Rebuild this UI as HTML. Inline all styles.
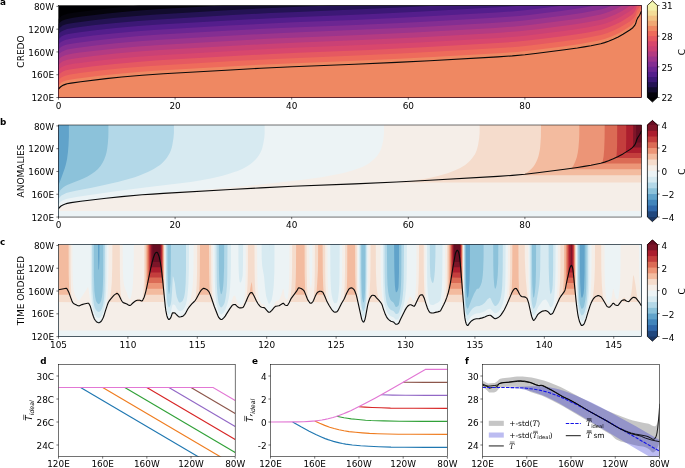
<!DOCTYPE html>
<html><head><meta charset="utf-8"><title>figure</title>
<style>html,body{margin:0;padding:0;background:#fff;overflow:hidden}svg{display:block}text{font-family:"DejaVu Sans","Liberation Sans",sans-serif;fill:#000}</style></head><body>
<svg width="685" height="468" viewBox="0 0 685 468">
<rect width="685" height="468" fill="#fff"/>
<clipPath id="ca"><rect x="58.5" y="5.45" width="583.00" height="92.05"/></clipPath>
<g clip-path="url(#ca)">
<rect x="58.5" y="5.45" width="583.00" height="92.05" fill="#000002"/>
<path fill="#05040c" fill-rule="evenodd" d="M58.5,97.5 641.5,97.5 641.5,5.5 139.3,5.5 121.7,7 107.1,8.5 82.8,11.4 73.1,12.7 67.2,13.8 65.3,14.4 63.4,15.1 61.4,16.1 60.4,16.9 58.5,19Z"/>
<path fill="#120c2e" fill-rule="evenodd" d="M58.5,97.5 641.5,97.5 641.5,5.5 223.2,5.5 159.6,9.1 136.2,10.8 119.7,12.3 105.1,13.8 81.8,16.6 73.1,17.8 67.2,18.9 65.3,19.5 63.4,20.2 61.4,21.2 60.4,22.1 58.5,24.1Z"/>
<path fill="#241354" fill-rule="evenodd" d="M58.5,97.5 641.5,97.5 641.5,5.5 330.9,5.5 292.7,7 260.6,8.5 227.6,10.3 152.8,14.7 133.3,16.2 112.9,18.1 93.5,20.3 73.1,22.9 67.2,24 65.3,24.6 63.4,25.3 61.4,26.4 60.4,27.2 58.5,29.2Z"/>
<path fill="#3c1876" fill-rule="evenodd" d="M58.5,97.5 641.5,97.5 641.5,5.5 439.7,5.5 409.3,7.1 377.2,8.6 297.5,11.9 270.3,13.1 232.4,15.1 159.6,19.4 138.2,20.9 115.8,22.9 95.4,25.1 79.9,27.1 73.1,28 67.2,29.1 65.3,29.7 63.4,30.4 61.4,31.5 60.4,32.3 58.5,34.3Z"/>
<path fill="#541e8c" fill-rule="evenodd" d="M58.5,97.5 641.5,97.5 641.5,5.5 521.6,5.5 510.3,6.4 497.7,7.3 418,11.7 367.5,14.2 299.5,16.9 272.3,18.2 233.4,20.2 159.6,24.5 138.2,26 115.8,28 95.4,30.3 79.9,32.2 73.1,33.2 67.2,34.3 65.3,34.8 63.4,35.6 61.4,36.6 60.4,37.4 58.5,39.5Z"/>
<path fill="#6c2692" fill-rule="evenodd" d="M58.5,97.5 641.5,97.5 641.5,5.5 563.2,5.5 537.5,8.7 524.9,10.2 512.3,11.4 496.7,12.5 428.7,16.3 395.7,18 353.9,19.9 293.6,22.3 264.5,23.7 228.5,25.6 153.7,30 134.3,31.4 112.9,33.4 93.5,35.6 73.1,38.3 67.2,39.4 65.3,39.9 63.4,40.7 61.4,41.7 60.4,42.5 58.5,44.6Z"/>
<path fill="#842e92" fill-rule="evenodd" d="M58.5,97.5 641.5,97.5 641.5,5.5 595.3,5.5 581.3,8 560.9,10.9 528.8,14.9 519.1,15.9 508.4,16.8 493.8,17.7 438.4,20.9 400.5,22.9 355.8,24.9 292.7,27.4 263.5,28.8 230.5,30.6 160.5,34.6 139.1,36.1 115.8,38.2 95.4,40.5 79.9,42.4 73.1,43.4 67.2,44.5 65.3,45 63.4,45.8 61.4,46.8 60.4,47.6 58.5,49.7Z"/>
<path fill="#9c358c" fill-rule="evenodd" d="M58.5,97.5 641.5,97.5 641.5,5.5 612.3,5.5 606.5,7.7 600.7,9.4 590,11.6 582.2,13 564.7,15.5 534.6,19.3 522,20.8 510.3,21.8 491.9,23 412.2,27.4 364.6,29.6 299.5,32.3 273.2,33.4 233.4,35.5 160.5,39.8 139.1,41.3 115.8,43.3 95.4,45.6 79.9,47.5 73.1,48.5 67.2,49.6 65.3,50.2 63.4,50.9 61.4,51.9 60.4,52.7 58.5,54.8Z"/>
<path fill="#b43b82" fill-rule="evenodd" d="M58.5,97.5 641.5,97.5 641.5,5.5 622.6,5.5 619.2,7.3 615.3,9.2 610.4,11.3 606.5,12.8 600.7,14.6 591.9,16.3 580.3,18.4 562.8,20.8 531.7,24.8 515.2,26.5 494.8,27.9 414.1,32.4 365.5,34.7 299.5,37.4 272.3,38.6 233.4,40.7 159.6,44.9 138.2,46.4 115.8,48.4 95.4,50.7 79.9,52.6 73.1,53.6 67.2,54.7 65.3,55.3 63.4,56 61.4,57 60.4,57.8 58.5,59.9Z"/>
<path fill="#ca4175" fill-rule="evenodd" d="M58.5,97.5 641.5,97.5 641.5,5.5 630.6,5.5 622.1,10.9 615.3,14.4 610.4,16.4 606.5,17.9 603.6,18.9 599.7,19.9 586.1,22.5 575.4,24.2 537.5,29.2 519.1,31.3 508.4,32.1 496.7,32.9 416.1,37.4 366.5,39.8 299.5,42.5 272.3,43.7 233.4,45.8 159.6,50 138.2,51.6 115.8,53.6 95.4,55.8 79.9,57.8 73.1,58.7 67.2,59.8 65.3,60.4 63.4,61.1 61.4,62.2 60.4,63 58.5,65Z"/>
<path fill="#d8476d" fill-rule="evenodd" d="M58.5,97.5 641.5,97.5 641.5,5.5 635.2,5.5 634.7,6.4 633.7,7.7 632.8,8.7 630.8,10.4 628.9,11.8 622.1,16 617.2,18.6 611.4,21.2 605.5,23.4 600.7,24.8 588.1,27.3 577.4,29 563.8,30.9 541.4,33.8 523,36 511.3,37 498.7,37.9 419,42.4 367.5,44.8 299.5,47.6 272.3,48.8 233.4,50.9 159.6,55.2 138.2,56.7 115.8,58.7 95.4,60.9 79.9,62.9 73.1,63.8 67.2,64.9 65.3,65.5 63.4,66.2 61.4,67.3 60.4,68.1 58.5,70.1Z"/>
<path fill="#e55961" fill-rule="evenodd" d="M58.5,97.5 641.5,97.5 641.5,5.5 637.1,5.5 636.6,6.6 635.7,9.8 634.7,11.6 633.7,12.8 632.8,13.9 630.8,15.5 625,19.3 621.1,21.7 615.3,24.6 609.4,27.1 604.6,28.8 600.7,29.9 597.8,30.5 588.1,32.4 580.3,33.7 560.9,36.4 527.8,40.6 515.2,41.8 501.6,42.8 422.9,47.3 369.4,49.9 298.5,52.7 272.3,53.9 233.4,56 158.6,60.3 137.2,61.9 114.9,63.9 93.5,66.3 73.1,69 67.2,70 65.3,70.6 63.4,71.3 61.4,72.4 60.4,73.2 58.5,75.2Z"/>
<path fill="#ee6b5b" fill-rule="evenodd" d="M58.5,97.5 641.5,97.5 641.5,5.5 640.1,5.5 639.6,6.5 637.6,9.5 636.6,11.7 635.7,14.9 634.7,16.7 633.7,17.9 632.8,19 629.8,21.4 624,25.1 621.1,26.8 616.2,29.2 612.4,31 607.5,32.9 603.6,34.2 600.7,35 595.8,36 588.1,37.5 581.3,38.7 563.8,41.2 531.7,45.3 518.1,46.7 503.5,47.8 433.6,51.8 400.5,53.5 356.8,55.5 286.8,58.4 234.4,61.1 150.8,66 124.6,68.1 104.2,70.1 79.9,73.1 70.2,74.5 67.2,75.2 65.3,75.7 63.4,76.5 61.4,77.5 60.4,78.3 58.5,80.4Z"/>
<path fill="#ef8862" fill-rule="evenodd" d="M58.5,97.5 641.5,97.5 641.5,7.5 639.6,11.7 637.6,14.6 636.6,16.8 635.7,20 634.7,21.8 633.7,23.1 631.8,25 629.8,26.5 623,30.8 619.2,32.9 614.3,35.3 609.4,37.3 604.6,39 600.7,40.1 597.8,40.7 588.1,42.6 580.3,44 562.8,46.4 530.7,50.5 517.1,51.9 502.6,53 432.6,57 399.6,58.7 355.8,60.7 288.8,63.4 242.1,65.7 154.7,70.8 135.3,72.3 113.9,74.2 97.4,76 76,78.7 68.2,80 65.3,80.8 63.4,81.6 61.4,82.6 60.4,83.4 58.5,85.5Z"/>
<path d="M58.5,89 60.4,87 61.4,86.2 63.4,85.1 65.3,84.4 67.2,83.8 71.1,83.1 80.8,81.7 106.1,78.6 121.7,77 142.1,75.3 152.8,74.5 163.4,73.8 230.5,70 260.6,68.3 292.7,66.8 354.9,64.3 396.6,62.4 429.7,60.7 497.7,56.9 512.3,55.9 524.9,54.7 537.5,53.2 564.7,49.7 577.4,48 584.2,46.9 591,45.7 600.7,43.7 604.6,42.6 608.5,41.2 613.3,39.3 618.2,37 623,34.3 629.8,30 631.8,28.5 632.8,27.7 633.7,26.6 634.7,25.4 635.7,23.6 636.6,20.4 637.6,18.1 639.6,15.2 640.5,13.3 641.5,11.1" fill="none" stroke="#0a0a0a" stroke-width="1.12" stroke-linejoin="round"/>
</g>
<rect x="58.5" y="5.45" width="583.00" height="92.05" fill="none" stroke="#000" stroke-width="0.55"/>
<path d="M56.40,6.36H58.5" stroke="#000" stroke-width="0.55"/>
<text x="54" y="10" font-size="8.9" text-anchor="end">80W</text>
<path d="M56.40,29.15H58.5" stroke="#000" stroke-width="0.55"/>
<text x="54" y="32.7" font-size="8.9" text-anchor="end">120W</text>
<path d="M56.40,51.93H58.5" stroke="#000" stroke-width="0.55"/>
<text x="54" y="55.5" font-size="8.9" text-anchor="end">160W</text>
<path d="M56.40,74.72H58.5" stroke="#000" stroke-width="0.55"/>
<text x="54" y="78.3" font-size="8.9" text-anchor="end">160E</text>
<path d="M56.40,97.50H58.5" stroke="#000" stroke-width="0.55"/>
<text x="54" y="101.1" font-size="8.9" text-anchor="end">120E</text>
<path d="M58.50,97.5V99.60" stroke="#000" stroke-width="0.55"/>
<text x="58.5" y="108.5" font-size="8.9" text-anchor="middle">0</text>
<path d="M175.10,97.5V99.60" stroke="#000" stroke-width="0.55"/>
<text x="175.1" y="108.5" font-size="8.9" text-anchor="middle">20</text>
<path d="M291.70,97.5V99.60" stroke="#000" stroke-width="0.55"/>
<text x="291.7" y="108.5" font-size="8.9" text-anchor="middle">40</text>
<path d="M408.30,97.5V99.60" stroke="#000" stroke-width="0.55"/>
<text x="408.3" y="108.5" font-size="8.9" text-anchor="middle">60</text>
<path d="M524.90,97.5V99.60" stroke="#000" stroke-width="0.55"/>
<text x="524.9" y="108.5" font-size="8.9" text-anchor="middle">80</text>
<text x="24.3" y="51.5" font-size="9.0" text-anchor="middle" transform="rotate(-90 24.3 51.5)">CREDO</text>
<text x="0.1" y="4.9" font-size="8.8" font-weight="bold">a</text>
<clipPath id="cb"><rect x="58.5" y="125.0" width="583.00" height="92.05"/></clipPath>
<g clip-path="url(#cb)">
<rect x="58.5" y="125.0" width="583.00" height="92.05" fill="#1c3764"/>
<path fill="#21487e" fill-rule="evenodd" d="M58.5,217.1 641.5,217.1 641.5,125 58.5,125Z"/>
<path fill="#3068aa" fill-rule="evenodd" d="M58.5,217.1 641.5,217.1 641.5,125 58.5,125Z"/>
<path fill="#4285bb" fill-rule="evenodd" d="M58.5,217.1 641.5,217.1 641.5,125 58.5,125Z"/>
<path fill="#61a3ca" fill-rule="evenodd" d="M58.5,217.1 641.5,217.1 641.5,125 58.9,125 58.8,146.9 58.5,159.4Z"/>
<path fill="#8cc2da" fill-rule="evenodd" d="M58.5,217.1 641.5,217.1 641.5,125 68.9,125 68.9,136.1 68.5,145.5 67.9,152.6 67,159.2 65.9,164.3 64.7,168.6 60,181.4 58.5,185.1Z"/>
<path fill="#b3d8e8" fill-rule="evenodd" d="M58.5,217.1 641.5,217.1 641.5,125 108.4,125 108.4,132.7 108.3,137.3 107.8,143.8 107.2,148.7 106.5,152.4 105.5,156.1 104.2,159.5 102.7,162.6 100.7,165.8 98,168.9 94.8,171.7 90.8,174.6 87.5,176.6 83.9,178.3 79.8,180 70.2,183.7 67.2,184.9 65.3,186 63.4,187.3 61.4,188.9 60.4,190.1 58.5,192.9Z"/>
<path fill="#d7eaf1" fill-rule="evenodd" d="M58.5,217.1 641.5,217.1 641.5,125 173.9,125 173.9,133 173.5,137.8 172.3,145.2 171.7,147.8 171,150.1 170.2,152.1 169.2,154.1 166.9,157.8 165.3,159.8 163.7,161.5 162,163.2 160,164.9 157.6,166.6 155,168.3 151.9,170 148.4,171.7 139.5,175.4 134.8,177.2 130.4,178.6 118.7,181.7 105.4,184.8 91.8,187.7 77,190.5 70.2,192 66.3,193.1 63.4,194.4 61.4,195.6 60.4,196.5 58.5,198.8Z"/>
<path fill="#ecf3f5" fill-rule="evenodd" d="M58.5,217.1 641.5,217.1 641.5,125 264.6,125 264.6,133.8 264.4,136.7 264,139.5 263.2,144.1 262.4,147.5 261.4,150.4 260.2,152.9 258.7,155.5 257.1,157.8 255.1,160.1 252.7,162.3 250.2,164.3 247.6,166 244.6,167.7 241.7,169.2 237.6,170.9 233.6,172.3 228.4,174 222.5,175.7 211.9,178.3 199.8,180.6 190.7,182 182.4,183.1 145,187.5 115.8,191.2 77.9,196.7 71.1,197.9 67.2,198.7 64.3,199.7 62.4,200.6 61.4,201.2 60.4,202.1 58.5,204.2Z"/>
<path fill="#f5eee8" fill-rule="evenodd" d="M58.5,210.8 58.5,210.9 641.5,210.9 641.5,125 384,125 384,132.1 383.8,135.5 383.4,139.2 382.5,143.8 381.5,147.5 380.4,150.4 379.1,152.9 377.4,155.5 375.2,158.1 372.4,160.6 369.5,162.9 366.3,164.9 362.3,166.9 358.2,168.6 353.1,170.3 348.1,171.7 342.4,173.2 335.8,174.6 328.2,176 321.4,177.2 302.8,179.7 274,183.1 246.9,186 212.9,189.1 189.7,191.1 154.7,193.7 136.2,195.4 110,198.1 80.2,201.9 69.3,203.7 64.3,205 64,205.4 62.4,205.9 62.3,206.2 61.4,206.5 61.3,207.1 60.4,207.3 60.4,207.9 60.1,208.2 59.5,208.4 59.4,209.1 58.5,209.3Z"/>
<path fill="#f5dccc" fill-rule="evenodd" d="M398.9,182.6 641.5,182.6 641.5,125 479.6,125 479.6,133 479.2,137.8 478,145.5 477.3,148.1 476.6,150.4 475.8,152.4 474.8,154.4 473.5,156.3 472.1,158.3 470.4,160.3 468.7,162 466.7,163.8 464.8,165.2 462.7,166.6 460.2,168 454.6,170.6 447.6,173.2 438.9,175.7 430.4,177.7 421.9,179.3 411.2,181Z"/>
<path fill="#f3bb9f" fill-rule="evenodd" d="M522.4,175.2 523.9,175.3 641.5,175.3 641.5,125 541,125 540.9,136.7 540.2,146.7 539.8,150.1 539.2,152.9 538.5,156.1 537.5,158.9 536.3,161.8 535,164.3 533.7,166.3 532,168.3 529.9,170.3 527.8,171.9 525,173.7Z"/>
<path fill="#ec9577" fill-rule="evenodd" d="M571.2,169.2 641.5,169.2 641.5,125 579.3,125 579.3,134.1 579.1,139.5 578.5,147.5 577.8,152.6 576.8,157.2 575.4,161.3 573.6,165.2 572.5,166.9 571,168.9Z"/>
<path fill="#db6b55" fill-rule="evenodd" d="M602.3,163.5 602.6,163.6 641.5,163.6 641.5,125 604.7,125 604.6,137.8 604.2,149.5 603.6,156.6Z"/>
<path fill="#c43e3d" fill-rule="evenodd" d="M616.7,158.1 617.2,158.1 641.5,158.1 641.5,125 617.2,125 617.1,145.5 616.8,151.8 616.4,157.8Z"/>
<path fill="#ac1e2e" fill-rule="evenodd" d="M625.9,152.6 626.9,152.9 641.5,152.9 641.5,125 626.2,125 626.2,139.5Z"/>
<path fill="#7d1528" fill-rule="evenodd" d="M633.5,147.5 633.7,147.6 641.5,147.6 641.5,125 633.2,125 633.1,146.9Z"/>
<path fill="#670d22" fill-rule="evenodd" d="M636.6,142.4 641.5,142.5 641.5,125 636.1,125 636.1,140.7 636.3,141.8Z"/>
<path d="M58.5,208.6 60.4,206.5 61.4,205.7 63.4,204.7 65.3,204 67.2,203.4 71.1,202.6 80.8,201.2 106.1,198.2 121.7,196.6 142.1,194.8 152.8,194.1 163.4,193.4 230.5,189.5 260.6,187.9 292.7,186.3 354.9,183.9 396.6,182 429.7,180.3 497.7,176.4 512.3,175.4 524.9,174.3 537.5,172.8 564.7,169.3 577.4,167.5 584.2,166.4 591,165.2 600.7,163.2 604.6,162.1 608.5,160.8 613.3,158.8 618.2,156.5 623,153.9 629.8,149.6 631.8,148.1 632.8,147.2 633.7,146.2 634.7,144.9 635.7,143.1 636.6,140 637.6,137.7 639.6,134.8 640.5,132.9 641.5,130.6" fill="none" stroke="#0a0a0a" stroke-width="1.12" stroke-linejoin="round"/>
</g>
<rect x="58.5" y="125.0" width="583.00" height="92.05" fill="none" stroke="#000" stroke-width="0.55"/>
<path d="M56.40,125.91H58.5" stroke="#000" stroke-width="0.55"/>
<text x="54" y="129.5" font-size="8.9" text-anchor="end">80W</text>
<path d="M56.40,148.70H58.5" stroke="#000" stroke-width="0.55"/>
<text x="54" y="152.3" font-size="8.9" text-anchor="end">120W</text>
<path d="M56.40,171.48H58.5" stroke="#000" stroke-width="0.55"/>
<text x="54" y="175.1" font-size="8.9" text-anchor="end">160W</text>
<path d="M56.40,194.27H58.5" stroke="#000" stroke-width="0.55"/>
<text x="54" y="197.9" font-size="8.9" text-anchor="end">160E</text>
<path d="M56.40,217.05H58.5" stroke="#000" stroke-width="0.55"/>
<text x="54" y="220.7" font-size="8.9" text-anchor="end">120E</text>
<path d="M58.50,217.05V219.15" stroke="#000" stroke-width="0.55"/>
<text x="58.5" y="228" font-size="8.9" text-anchor="middle">0</text>
<path d="M175.10,217.05V219.15" stroke="#000" stroke-width="0.55"/>
<text x="175.1" y="228" font-size="8.9" text-anchor="middle">20</text>
<path d="M291.70,217.05V219.15" stroke="#000" stroke-width="0.55"/>
<text x="291.7" y="228" font-size="8.9" text-anchor="middle">40</text>
<path d="M408.30,217.05V219.15" stroke="#000" stroke-width="0.55"/>
<text x="408.3" y="228" font-size="8.9" text-anchor="middle">60</text>
<path d="M524.90,217.05V219.15" stroke="#000" stroke-width="0.55"/>
<text x="524.9" y="228" font-size="8.9" text-anchor="middle">80</text>
<text x="24.3" y="171" font-size="9.0" text-anchor="middle" transform="rotate(-90 24.3 171)">ANOMALIES</text>
<text x="0.1" y="124.7" font-size="8.8" font-weight="bold">b</text>
<clipPath id="cc"><rect x="58.5" y="244.55" width="583.00" height="92.05"/></clipPath>
<g clip-path="url(#cc)">
<rect x="58.5" y="244.55" width="583.00" height="92.05" fill="#1c3764"/>
<path fill="#21487e" fill-rule="evenodd" d="M58.5,336.6 641.5,336.6 641.5,244.6 58.5,244.6Z"/>
<path fill="#3068aa" fill-rule="evenodd" d="M58.5,336.6 641.5,336.6 641.5,244.6 58.5,244.6Z"/>
<path fill="#4285bb" fill-rule="evenodd" d="M58.5,336.6 641.5,336.6 641.5,244.6 58.5,244.6Z"/>
<path fill="#61a3ca" fill-rule="evenodd" d="M58.5,336.6 641.5,336.6 641.5,244.6 58.5,244.6Z"/>
<path fill="#8cc2da" fill-rule="evenodd" d="M58.5,336.6 641.5,336.6 641.5,244.6 584.7,244.6 584.6,272.5 584.1,288.7 583.6,293.6 583.1,295.6 582.6,297 582.1,297.8 581.6,297.8 581.1,295.9 580.7,292.1 580.2,283 580,269.3 579.9,244.6 470,244.6 469.9,266.5 469.6,280.2 468.8,291.9 468.3,295.9 467.8,297.8 467.3,297.5 466.8,295 466.2,287.3 465.9,271.6 465.8,244.6 399.1,244.6 399,272.2 398.6,285 398.4,287.4 397.9,289.7 397.3,291.3 396.4,292.3 395.9,292.2 395.4,290.1 394.9,285.6 394.7,281 394.3,267.1 394.1,244.6 99.5,244.6 99.4,259.7 98.9,270.3 98.4,268.5 98.3,264.8 98,255.7 98,244.6 58.5,244.6Z"/>
<path fill="#b3d8e8" fill-rule="evenodd" d="M58.5,336.6 641.5,336.6 641.5,244.6 586.5,244.6 586.3,279.6 586.1,289.1 585.7,295.8 585,301.5 584.1,306.1 583.6,307.3 583.1,307.9 582.1,308.7 581.6,308.8 581.1,308 580.6,306.6 579.8,303.3 579.3,299.3 579,294.4 578.6,278.7 578.5,244.6 536.1,244.6 536,268.5 535.7,282.3 535.3,288.2 534.8,292.7 534.2,296.6 533.7,297.8 533.2,296.9 532.9,294.1 532.3,284.7 532.1,270.2 532,244.6 498.3,244.6 498.2,263.4 497.7,275.6 496.7,284.4 496.1,287 495.8,288.1 495.3,288.7 494.8,288.2 494.3,285.8 493.6,277.3 493.3,265.4 493.2,244.6 483.6,244.6 483.6,257.1 483.2,269.1 482.7,275.9 481.8,281.9 480.8,285 479.7,287.3 478.8,288.4 478.3,288.7 477.3,288.7 476.8,289 474.3,293.2 471.8,298.9 468.5,307.5 467.8,308.7 467.3,308.6 466.8,307.7 466.3,306.3 465.8,303.7 465.3,297.5 464.9,280.2 464.8,244.6 401.4,244.6 401.3,275 401,284.7 400.6,291.6 399.8,299.3 398.9,304.4 398.4,305.8 397.4,306.6 396.4,306.9 395.9,306.9 395.4,306.4 393.9,303.2 393.4,302.5 391.4,301 390.4,299.7 389.1,296.4 388.2,291.9 387.5,285 387.2,276.8 386.9,244.6 365.4,244.6 365.3,273.9 365.1,290.4 364.5,298.6 364,301.7 363.5,302.7 363,301.8 362.1,297.6 361.6,289.3 361.3,274.2 361.3,244.6 224.2,244.6 224.1,267.6 223.6,280.7 223.2,286.1 222.7,290 222,293 221.7,293.8 221.2,294.2 220.7,293.4 220.1,290.4 219.6,286.4 219.2,280.8 218.9,267.6 218.8,244.6 170.9,244.6 170.8,270.8 170.5,282.2 169.8,291.2 169.3,293.7 168.8,294 168.2,290.1 167.8,281.3 167.5,267.9 167.5,244.6 103.3,244.6 103.2,275 102.9,284.7 102.6,291 102,296.4 101.4,299.8 100.9,301.3 100.2,302.7 99.4,303.8 98.9,304.1 98.4,304 97.9,303.7 97.3,303 96.4,301.7 95.9,300.4 95,296.1 94.4,290.9 93.9,276.2 93.8,244.6 58.5,244.6Z"/>
<path fill="#d7eaf1" fill-rule="evenodd" d="M58.5,336.6 641.5,336.6 641.5,244.6 587.9,244.6 587.8,281.3 587.5,291.3 587,299 586.1,306.1 584.6,312 583.6,314.3 582.6,315.1 582.1,315.4 581.6,315.4 581.1,314.8 580.6,313.8 579.6,310.8 578.6,305.3 578.1,299.6 577.6,281.9 577.5,244.6 553.2,244.6 553.1,269.9 552.7,285 552.4,288.4 551.9,291.3 551.2,293.6 550.7,294.1 550.2,292.9 549.7,289.6 549.1,280.2 548.7,267.3 548.6,244.6 540.4,244.6 540.2,269.1 539.9,276.8 539.3,284.2 538.4,290.7 536.3,302.7 535.7,305 535.2,306.3 534.2,308.3 533.7,308.8 533.2,308.4 532.7,306.9 532.2,304.4 531.6,301 531.2,294.7 530.8,277.6 530.7,244.6 502.8,244.6 502.7,270.5 502.2,285.9 501.7,291.4 501.1,295.8 500.2,299.4 499.2,302.1 498.2,303.8 496.8,305.3 495.8,305.9 495.3,306 494.8,305.9 493.8,304.8 492.3,302.2 490.8,298.7 490.3,297.9 489.8,297.8 489.3,298 487.3,299.6 484.8,302.7 482.3,304.7 479.3,305.9 476.3,306.3 474.3,307.2 473.3,307.9 472.3,308.7 471.3,309.9 469.3,312.9 468.3,314.8 467.8,315.4 467.3,315.3 466.8,314.6 466.3,313.5 465.8,311.8 465.3,308.6 464.8,303 464.3,284.7 464.3,244.6 435.5,244.6 435.4,256.5 434.9,270.2 434.4,275.9 433.9,280.1 433.4,282.3 432.9,282.9 432.4,282.7 432,282.2 431.4,280.8 430.4,276.4 429.9,264.2 429.8,244.6 404,244.6 403.7,278.7 403.4,288.2 402.8,295.6 402.3,299.6 401.6,303.3 399.2,311.5 398.4,313.2 397.4,313.7 396.4,314 395.9,314 395.4,313.6 393.9,311.5 393.4,311.1 390.9,310 389.9,309.1 388.9,307.9 387.9,306.3 387.2,304.7 386.4,301.8 386,299.3 385.3,293 384.8,283.6 384.6,269.3 384.6,244.6 366.3,244.6 366.2,279 365.9,296.4 365.5,302.8 365,307 364,310.6 363.5,311.2 363,310.7 362.5,309.7 361.8,307.5 361.2,303 360.7,296.1 360.3,278.7 360.2,244.6 269.2,244.6 269.1,253.8 269.1,244.6 227.5,244.6 227.3,275 227,284.7 226.4,292.1 225.6,298.1 224.6,302.7 223.7,304.7 222.7,306.3 221.7,307.3 221.2,307.5 220.7,307.2 220.2,306.7 219.3,305 218.7,303.5 217.9,299 217.3,293.3 216.9,286.4 216.7,277.3 216.5,244.6 186,244.6 186,269.1 185.7,282.7 185.1,291.3 184.7,294.1 184,297.6 182.8,300.6 182.3,301.3 181.3,302 180.3,302.5 179.3,302.5 178.8,302 178.3,301.1 176.8,297 176,292.7 174.8,282.9 173.8,278.7 173.3,277 172.8,276.2 172,292.4 171.3,301 170.8,304.1 170.3,305.5 169.8,306.6 169.3,307.3 168.8,307.4 168.3,306.6 167.9,305.5 167.3,302.9 166.8,298.3 166.6,293.9 166.3,278.2 166.2,244.6 105,244.6 104.8,280.7 104.5,290.4 104.1,297.8 103.4,303.1 102.9,305.5 102,308.4 100.9,310.4 99.9,311.5 98.9,312 97.9,311.8 96.4,310.6 95.7,309.5 94.9,307.9 93.9,304.5 93.1,298.4 92.5,290.7 92.3,281.9 92.1,244.6 58.5,244.6Z"/>
<path fill="#ecf3f5" fill-rule="evenodd" d="M58.5,336.6 641.5,336.6 641.5,244.6 589.5,244.6 589.3,282.2 589,291.9 588.4,299.6 587.2,308.1 586.4,312.1 585.6,315.2 584.6,318 583.6,320 582.6,320.8 581.6,321 581.1,320.5 580.1,318.4 579.1,315.2 578.1,309.6 577.4,302.4 577.1,295.3 576.9,285 576.8,244.6 555.6,244.6 555.5,270.5 555.1,285.9 554.3,296.7 553.7,301.5 553,304.4 552.7,305.5 552.2,306.3 551.2,307.3 550.7,307.4 550.2,307.1 549.9,306.7 548.2,302.7 546.2,299.7 545.7,299.4 545.2,299.5 543.2,300.3 542.2,301.2 538.2,306.9 537.2,308.9 535.7,312.7 534.2,315 533.7,315.4 533.2,315.1 532.7,314 531.7,310.4 530.8,304.7 530.1,297.6 529.7,281 529.5,244.6 505.6,244.6 505.5,273.6 505.3,283.3 505,289.9 504.4,295.8 503.7,300 502.7,304.1 501.2,307.8 500.2,309.5 498.7,311.4 497.7,312.2 495.8,313.3 494.8,313.3 494.3,313 490.8,309.2 490.3,308.8 489.8,308.8 488.8,309 487.3,309.6 484.8,311.2 481.8,312.6 479.3,313.2 476.3,313.5 474.3,314.2 472.3,315.4 471.3,316.3 469.3,318.8 468.3,320.5 467.8,321 467.3,320.9 466.8,320.3 466.3,319.3 465.8,317.8 464.8,311.7 464.3,304.9 463.9,286.4 463.8,244.6 442.5,244.6 442.4,267.3 442.2,280.7 441.7,290.7 440.9,297.8 440.3,300.2 439.3,301.6 437.8,302.7 435.4,303.8 433.9,304.8 432.9,305.1 430.9,304.7 430.4,304.4 429.9,303.9 429.4,302.7 428.7,299.8 427.9,294.2 427.4,286.7 427.2,278.2 427.1,244.6 406.9,244.6 406.8,266.2 406.6,278.7 406.1,288.4 405.2,297 404.5,301.3 403.6,305.3 401.4,311.9 399,318.1 398.4,319 397.4,319.5 396.4,319.7 395.9,319.7 395.4,319.4 393.9,317.6 393.4,317.3 391.4,316.6 390.4,316 388.9,314.8 387.9,313.6 386.9,311.8 385.9,309.3 384.7,304.4 383.7,296.7 383.2,286.7 382.9,271.3 382.9,244.6 367.3,244.6 367.2,280.7 366.7,297.8 366.3,304.4 365.5,311.3 365,314 364.5,315.7 364,316.9 363.5,317.3 363,317 362.5,316.1 362,315 361.5,312.9 360.3,305 359.7,297.8 359.2,280.7 359.1,244.6 339.7,244.6 339.5,275.3 339.3,284.4 338.9,291 338.2,297.3 337.5,301 337,302.4 336,303.1 335,303.3 334.5,303.3 334,302.7 333.2,301 332.5,298.7 331.6,294.4 331,289.3 330.7,282.7 330.4,273.3 330.3,244.6 274.5,244.6 274.4,271.1 274,280.2 273.6,287 272.7,294.4 271.8,299.3 271.1,301 270.1,302.9 269.6,303.5 269.1,303.7 268.6,303.4 267.9,301.8 266.9,298.7 266.1,295.9 265,287.6 264.1,276.8 262.2,266.1 261.7,258.6 261.6,244.6 243.1,244.6 243,263.4 242.7,275.5 241.7,280.3 241.2,281.6 240.7,282.3 240.2,282.7 239.7,281.9 239.2,278.9 238.7,271.7 238.4,258.8 238.4,244.6 230.9,244.6 230.9,265.4 230.6,277.3 230.1,287.3 229.3,295 228.7,298.7 227.9,302.1 227,305.3 225.6,309 224.7,310.9 223.7,312.4 222.2,314 221.2,314.4 220.7,314.2 219.7,313.2 218.7,311.7 218.2,310.4 216.7,304.7 215.6,296.7 215.1,289 214.8,279.6 214.6,244.6 189,244.6 188.9,269.3 188.4,284.2 188,289.9 187.4,296.1 186.7,300.7 185.8,304.7 184.8,307.3 183.3,309.5 182.3,310.4 180.8,311 179.8,311.2 179.3,311.1 178.8,310.8 177.9,309.8 176.8,308.4 175.3,305.6 174.8,305.1 173.8,304.6 172.8,304.4 172.3,305.4 170.8,312.1 169.8,313.8 169.3,314.3 168.8,314.4 168.3,313.8 167.8,312.7 167.3,311.3 166.8,308.9 166.3,305 165.8,298.8 165.5,281.6 165.4,244.6 106.6,244.6 106.4,281.8 106.1,291.3 105.5,299 104.5,306.7 103.9,309.5 103.2,312.1 102.4,314.1 101.4,316.1 99.9,317.6 98.9,318.1 97.9,317.8 96.4,316.9 95.4,315.6 94.4,313.7 93.8,311.8 92.9,308.4 91.9,302.4 91.3,294.4 90.9,283.3 90.7,244.6 58.5,244.6Z"/>
<path fill="#f5eee8" fill-rule="evenodd" d="M58.5,330.3 58.5,330.5 641.5,330.5 641.5,300.6 640.8,296.7 640.2,292.1 639.5,282.2 639.2,268.5 639.1,244.6 620.6,244.6 620.5,267.3 620.2,280.2 619.7,288.4 618.5,297.3 618,299 617.5,299.4 616.5,298.9 615.5,297.8 614.9,296.1 613.5,288.5 613,289.2 611.9,296.1 611.4,298.7 610.1,302.5 609.6,303.4 609.1,303.7 608.6,303.5 607.6,302.7 607.1,301.9 606.7,300.7 606,296.7 605.3,289.6 604.9,282.7 604.6,273.3 604.5,244.6 591.5,244.6 591.5,267.6 591.3,281 590.9,290.4 590.2,299 588.9,307.5 586.8,316.9 586.5,317.8 586.4,318.9 586,319.5 586,320.4 585.5,320.9 585.5,321.8 585.1,322.2 585,323.2 584.6,323.4 584.5,324.3 584.1,324.6 584,325.2 582.1,326.3 581.6,326.3 581.2,326.1 581.1,325.7 580.6,325.5 580.6,324.9 580.2,324.6 580.1,323.8 579.7,323.5 579.6,322.6 579.3,322.4 579.2,322.1 579.1,320.8 578.7,320.4 578.7,318.9 578.3,318.1 578.2,316.4 577.8,315.2 576.9,304.4 576.5,297.6 576.3,286.7 576.2,244.6 557.9,244.6 557.8,274.5 557.6,283.9 557.2,290.7 556.7,296.7 556,301.5 555.1,305.5 553.7,310.6 552.7,313 551.7,314 550.7,314.4 550.2,314.1 549.7,313.5 548.2,311.2 546.2,309.6 545.7,309.5 544.7,309.6 542.7,310.1 541.7,310.7 539.7,312.5 538.2,314 537.2,315.5 535.9,318.4 535.3,319.2 534.3,320.6 533.7,321 533,320.6 532.7,319.7 532.4,319.5 532.2,318.4 532,318.1 531.5,316.4 531,314.1 529.7,305.5 529.1,298.7 528.8,291 528.5,279.6 528.3,244.6 508,244.6 507.8,275.9 507.6,285.3 507.2,292.4 506.6,298.4 505.7,303.5 504.4,308.1 502.7,312 501.2,314.6 499.7,316.5 498.2,317.9 496.2,318.9 495.3,319.2 494.8,319.1 493.7,318.4 490.8,315.7 490.3,315.4 489.8,315.4 488.8,315.6 487.3,316 484.8,317.4 482.3,318.4 479.3,319.1 476.3,319.3 474.3,319.9 473.3,320.4 471.8,321.4 470.8,322.3 470.7,322.6 470.3,322.9 470.2,323.2 469.8,323.5 469.6,324.1 469.3,324.3 469.1,324.9 468.8,325.1 468.8,325.5 467.8,326.3 467.3,326.3 466.9,326.1 466.8,325.7 466.5,325.5 466.3,324.7 465.9,324.3 465.8,323.3 465.4,322.9 465.3,320.9 465,320.6 464.9,320.4 464.8,318.1 464.5,316.9 464.4,313.5 464.1,311 463.7,299.6 463.5,289.3 463.4,244.6 445,244.6 444.9,269.1 444.7,283 444.2,292.4 443.3,299.8 441.7,306.4 440.8,309 440.3,309.9 439.3,310.6 438.3,311 432.9,312.7 430.4,312.3 429.9,311.9 429,310.4 428.1,308.1 427.5,306.1 426.5,299.6 425.9,291.9 425.6,283 425.4,244.6 416.5,244.6 416.4,268.2 416.2,281.9 415.6,292.4 414.8,299.3 414.4,301 413.9,301.3 413.4,300.8 412.7,299.8 410.9,297 410.4,296.4 409.9,296.5 409.4,297.3 407.9,300.8 403.4,313.2 401.2,318.6 400.8,319.2 400.7,319.8 400.4,320.1 400.3,320.9 399.9,321.3 399.8,322.1 399.7,322.4 399.4,322.5 399.3,323.5 398.9,323.7 398.9,324.1 398.4,324.3 397.4,324.9 396.4,325.1 395.9,325.1 395.1,324.6 393.9,323.1 393.1,322.6 390.9,321.9 390.2,321.5 388.8,320.4 387.7,319.2 386.3,316.7 385.3,314.4 383.4,307.1 382.2,298.1 381,283.9 380.6,269.3 380.5,244.6 368.5,244.6 368.3,279.9 368.1,288.7 367.7,298.4 367.1,305.8 366.2,313.5 365.9,314.9 365.7,316.9 365.5,317.4 365.3,319.2 365,319.8 364.8,320.9 364.5,321.3 364.4,322.1 363.5,322.8 362.7,322.4 362.5,321.7 362.2,321.5 362,320.6 361.7,320.4 361.5,318.8 361.2,318.4 361,316.7 360.8,315.8 359.5,307.2 358.7,299.3 358.3,291.3 358.1,281.9 357.9,244.6 342.3,244.6 342.1,277.3 341.7,287.3 341,295.8 339.8,303 339.2,305.5 338,309.1 337.5,310.3 337,311 336,311.4 335,311.6 334.5,311.6 333.5,310.7 332,308.4 331.1,306.4 329.5,300.7 328.5,294.7 327.9,287.6 327.6,277.9 327.4,244.6 312.4,244.6 312.4,263.6 312.2,275.6 311.6,284.7 311.1,288 310.6,287.9 310.1,285 309.6,276.8 309.4,265.1 309.3,244.6 289.5,244.6 289.4,268.8 289.1,282.9 288.5,292.1 288.1,295.7 287.6,298.4 287.1,299.4 286.6,299.3 286.1,298.9 285.1,297.8 284.6,296.2 283.6,289.1 283.1,288.5 281.3,295 279.6,299.1 278.6,300.3 276.1,301.2 275.6,301.7 271.6,309.6 270.1,311.3 269.6,311.7 269.1,311.8 268.6,311.6 267.6,310.4 266.1,308 264.6,305.1 264.1,304.5 261.7,303.8 261.2,303.5 260.7,302.8 259.7,300.4 258.7,296.6 257.8,289.6 257.4,280.5 257.2,267.6 257.1,244.6 245.8,244.6 245.7,270.6 245.3,286.2 245,291.9 244.5,297.3 243.8,301.3 243.2,303.6 242.7,304.4 241.2,304.9 240.2,305.1 239.7,305 239.2,304.6 238.2,303.5 237.2,302 235.2,295.8 234.7,295.6 233.2,296.4 232.7,297.5 231.3,302.7 230.5,305 228.3,310.1 225.8,315.2 224.9,316.9 223.8,318.4 222.2,319.8 221.2,320.1 220.1,319.5 219.1,318.4 218.5,317.5 217.6,315.2 216.5,311.5 215.1,306.4 214.4,302.7 213.9,298.7 213.3,291 213,281.9 212.8,244.6 193.7,244.6 193.5,268.8 192.9,282.7 192.4,288.2 191.5,294.1 190.7,298.1 189.5,302.1 185.8,312.4 184.8,314.3 183.3,316 182.3,316.7 181.3,317 180.3,317.3 179.3,317.3 178.3,316.6 176.8,315.1 175.3,313.1 174.3,312.5 172.8,312.3 172.3,312.9 171,317.8 169.9,319.5 169.3,320 168.8,320.1 168.2,319.5 167.6,318.4 167,316.9 166.6,314.9 165.7,308.7 165.3,302.3 164.9,284.4 164.9,244.6 133.9,244.6 133.7,267.6 133,281.9 132.5,288.4 131.6,294.1 130.9,297.4 130.4,298.5 129.9,299 129.4,298.9 128.9,298.3 128.1,296.7 126.9,292.9 124.8,287.9 124.2,285.6 123.7,282.7 123.3,278.2 122.9,270.8 122.7,244.6 108.5,244.6 108.5,266.8 108.2,281.6 107.8,292.4 107.1,300.4 106,307.2 103.6,317.2 102.9,318.9 102.7,319.5 102.3,320.1 102.2,320.6 101.9,320.9 101.7,321.5 100.2,322.9 99.4,323.4 98.9,323.4 97.9,323.3 97.4,323.1 96.6,322.6 95.7,321.8 94.2,319.2 93.2,316.4 91.9,311 91.2,307.2 89.7,297.6 88.4,287.8 87.9,287.2 87.5,287.7 85.9,290.4 82,296.3 80.2,299.3 79.5,300.2 79,300.4 78.5,300.3 78,299.9 77,298.7 75.5,296.1 74.5,293.6 73.5,289 72.9,281.9 72.5,268.2 72.5,244.6 58.5,244.6Z"/>
<path fill="#f5dccc" fill-rule="evenodd" d="M58.5,302.1 72,302.2 72.1,301.8 71.3,294.7 70.8,283.9 70.5,269.3 70.5,244.6 58.5,244.6ZM109.2,302.1 121.9,302.2 122,301.8 120.9,295.2 120.4,289.9 120.2,285.6 119.9,270.5 119.8,244.6 112.4,244.6 112.2,268.5 111.8,282.5 111,291.3 110.2,296.4 109.1,301.3ZM134.8,302.1 164.4,302.1 164.6,301 164.6,297.6 164.4,280.2 164.3,244.6 144.2,244.6 144.1,268.5 143.9,282.5 143.5,290.4 142.9,297.2 142.4,299.8 141.9,301.1 141.4,301.2 139.9,299.1 139.4,298.8 138.9,298.8 136.9,299.3 136.4,299.7ZM194.7,302.1 212.2,302.2 212.4,301.8 212.5,301 211.7,290.7 211.3,282.2 211.1,244.6 197.2,244.6 197.1,269.9 196.7,284.7 196,295 195.3,299 194.6,301.5ZM246.2,302.1 256.7,302.1 255.6,295.3 254.9,284.7 254.6,269.6 254.5,244.6 247.9,244.6 247.9,268.8 247.6,283.3 247,293.6ZM290.1,302.1 308.6,302.1 308.7,301.8 308.1,299.4 307.6,295.7 307,285.9 306.7,270.5 306.6,244.6 292.2,244.6 292.1,267.3 291.8,280.2 291.3,289.6 290.7,296.1 289.9,301.5ZM313,302.1 326.5,302.2 326.8,301.8 325.9,293.3 325.4,283.3 325.2,269.1 325.2,244.6 314.9,244.6 314.8,270.2 314.5,285.3 313.9,295.8 313.6,299.2ZM343,302.1 357.5,302.1 357.7,300.7 357.2,291.6 356.9,279.3 356.8,244.6 345.1,244.6 345,270.2 344.7,285.3 344.1,295 343.5,298.7 342.9,301.5ZM368.9,302.1 379.4,302.2 379.7,301.8 378.3,297 377.5,293.9 377,290.4 376.5,285.6 375.9,270.8 375.8,244.6 370.6,244.6 370.5,265.1 370.3,278.5 369.7,290.7 368.8,301.3ZM416.9,302.1 424.9,302.2 425,301.5 424.3,289.9 424,281.6 423.7,267.3 423.7,244.6 419,244.6 418.9,269.1 418.6,283.3 418,293ZM445.3,302.1 463.3,302.2 463.2,301.8 463.1,301 463,244.6 447,244.6 446.9,270.2 446.7,284.7 446.2,294.7ZM508.6,302.1 527.7,302.2 527.9,301.8 527.9,300.7 526,281.6 525.4,272.2 524.8,257.9 524.8,244.6 510.1,244.6 510.1,268.5 509.8,282.5 509.3,293 508.5,301ZM558.5,302.1 576.1,302.2 575.8,283.6 575.7,244.6 560.4,244.6 560.4,267.6 560.1,281 559.4,292.1 558.4,301ZM592.1,302.1 604.1,302.1 603.9,301.8 602.6,293.9 601.8,283.9 601.3,269.1 601.2,244.6 595,244.6 594.9,267.1 594.4,280.7 593.7,289.9 592.9,296.4 592,301.5ZM621.4,302.1 627.6,302.1 626.5,301.2 626,300.4 625,298.2 624.5,297.6 623.5,298 622,299.7 621.3,301.5ZM629.2,302.1 638.5,302.1 637.2,297 635.5,284.9 634,276.4 633.5,274.9 633,277 632.2,286.2 631.5,291.9 630.8,295.8Z"/>
<path fill="#f3bb9f" fill-rule="evenodd" d="M58.5,294.7 58.5,294.8 69,294.8 69.2,294.7 69.3,294.4 68.7,274.8 68.6,244.6 58.5,244.6ZM115.7,294.7 115.9,294.8 117.9,294.8 118,294.7 117.4,291.7 116.9,291.2 116.4,292.1ZM145.3,294.7 145.4,294.8 163.8,294.8 164,292.4 163.8,244.6 145.7,244.6 145.6,277 145.1,293.9ZM198.9,294.7 199.3,294.8 209.7,294.8 209.9,294.4 209.4,284.4 209.2,273.6 209,244.6 200,244.6 199.8,275.9 199.5,285.6ZM249.6,294.7 249.7,294.8 252.7,294.8 252.9,294.4 252.2,285.4 251.7,281.9 251.2,283.5 250.2,289 249.5,294.4ZM294.5,294.7 294.6,294.8 305.1,294.8 305.3,294.4 304.7,275.3 304.6,244.6 296.1,244.6 296,265.4 295.8,277.6 295.4,286.7ZM316.5,294.7 316.6,294.8 323.5,294.8 323.8,294.1 323.2,286.2 322.8,273.3 322.6,244.6 318.1,244.6 318.1,257.4 317.9,270.5 317.2,283.3 316.4,294.1ZM346.4,294.7 346.5,294.8 355.5,294.8 355.8,294.4 355.2,274.8 355.1,244.6 347.3,244.6 347.2,275.3 346.9,285.9 346.3,294.1ZM448.2,294.7 448.3,294.8 462.3,294.8 462.5,294.4 462.7,289 462.6,244.6 448.5,244.6 448.4,277 448,293.3ZM511.5,294.7 511.7,294.8 519.2,294.8 519.4,294.4 518.9,287 518.6,277.6 518.4,244.6 512.4,244.6 512.2,274.2 511.9,285 511.4,293.9ZM562.6,294.7 562.6,294.8 575.1,294.8 575.4,291.3 575.2,244.6 564.1,244.6 564,265.6 563.8,277.9 563.4,286.4Z"/>
<path fill="#ec9577" fill-rule="evenodd" d="M146.8,288.7 163.3,288.7 163.4,287.3 163.3,244.6 146.9,244.6 146.9,272.5 146.7,287.6ZM298.6,288.7 299.3,288.7 299.3,288.4 299.1,288.1 298.6,288.1ZM351,288.7 352,288.7 351.5,287.9 351,288.4ZM449.8,288.7 461.8,288.7 462,288.4 462.2,287 462.2,282.7 462.2,244.6 449.7,244.6 449.5,286.7 449.6,288.2ZM565.6,288.7 574.6,288.7 574.8,286.2 574.7,244.6 565.8,244.6Z"/>
<path fill="#db6b55" fill-rule="evenodd" d="M147.8,283 162.8,283.1 162.8,244.6 148,244.6ZM450.8,283 461.8,283.1 461.8,244.6 450.6,244.6 450.5,281.3ZM566.6,283 574.1,283.1 574.3,281.3 574.2,244.6 566.8,244.6Z"/>
<path fill="#c43e3d" fill-rule="evenodd" d="M149.3,277.6 162.2,277.6 162.3,275 162.3,244.6 149,244.6 149,275.9ZM451.7,277.6 461.3,277.7 461.4,244.6 451.4,244.6 451.4,274.8 451.5,276.8ZM568.1,277.6 573.6,277.7 573.7,276.5 573.7,244.6 567.9,244.6 567.8,276.2Z"/>
<path fill="#ac1e2e" fill-rule="evenodd" d="M150.3,272.2 150.3,272.4 161.3,272.4 161.4,272.2 161.7,269.3 161.7,244.6 150.1,244.6 150.1,270.8ZM452.3,272.2 452.3,272.4 460.8,272.4 461,270.2 461,244.6 452.3,244.6ZM569.1,272.2 569.1,272.4 573.1,272.4 573.2,244.6 569,244.6Z"/>
<path fill="#7d1528" fill-rule="evenodd" d="M151.3,267.1 151.3,267.2 160.8,267.2 161,265.6 161,244.6 151.2,244.6 151.2,266.5ZM453.3,267.1 453.3,267.2 460.3,267.2 460.5,264.2 460.5,244.6 453.1,244.6 453.1,265.6ZM570.6,267.1 571.1,267.2 572.1,267.2 572.2,267.1 572.1,244.6 570.6,244.6Z"/>
<path fill="#670d22" fill-rule="evenodd" d="M152.8,261.9 159.9,261.9 160.1,260.2 160.1,244.6 152.5,244.6 152.5,260.5ZM454.3,261.9 459.8,262 460.1,259.7 460.1,244.6 454,244.6 454,260.2Z"/>
<path d="M58.5,289.7 65,288.5 66,288.4 66.5,288.4 67,288.9 67.5,289.7 69,292.8 70.5,297.1 72,301 72.5,302.2 73,302.9 74,303.7 75,304.3 77,305.3 78,305.7 78.5,305.8 79,305.9 79.5,305.8 82,304.6 84,304 87.5,303.2 87.9,303.2 88.4,303.2 88.9,303.7 89.4,304.5 90.4,306.6 92.4,313.5 93.4,316.5 94.4,319 95.4,320.5 96.4,321.7 97.4,322.3 98.4,322.7 98.9,322.7 99.4,322.6 100.4,322 101.4,321 101.9,320.2 102.9,318.3 103.4,317.2 103.9,315.8 105.4,310.9 107.4,304.8 108.4,302.3 108.9,301.4 110.4,299.3 113.4,295.9 114.4,294.9 115.9,293.9 116.4,293.6 116.9,293.4 117.4,293.5 117.9,293.9 118.9,295.1 120.9,299.3 121.9,301 122.4,301.8 122.9,302.3 123.9,302.9 126.9,304 128.4,304.9 129.4,305.4 129.9,305.4 130.4,305.2 130.9,304.9 133.4,302.5 135.4,301 136.4,300.5 137.4,300.3 139.4,300.2 139.9,300.3 141.4,301 141.9,301 142.4,300.5 142.9,299.8 143.9,297.8 144.4,296.5 145.9,291.1 146.8,287.1 150.8,268 152.3,261.7 153.3,258 154.3,255.2 154.8,254.1 155.3,253.2 155.8,252.7 156.3,252.5 156.8,252.3 157.3,252.5 157.8,253.2 158.8,255.7 159.3,257.4 160.3,262.2 161.3,268.5 161.8,272.6 162.8,281.6 165.3,306.6 165.8,310.4 166.8,315.4 167.3,317.1 167.8,318.2 168.3,319 168.8,319.5 169.3,319.4 169.8,319 170.8,317.6 172.3,313.2 172.8,312.7 174.3,312.9 174.8,313 175.3,313.3 176.8,315 178.3,316.4 178.8,316.7 179.3,316.9 179.8,317 180.8,316.8 182.3,316.4 182.8,316.2 183.8,315.4 184.8,314.3 185.3,313.7 187.8,309 189.3,306.9 191.8,303.9 194.3,301.5 195.3,300.3 196.3,298.7 199.8,292.3 200.8,290.7 202.3,289.1 202.8,288.7 203.3,288.4 203.8,288.4 204.7,288.6 206.2,289.2 206.7,289.4 207.2,289.8 208.2,290.8 208.7,291.4 209.2,292.3 210.2,294.6 211.7,298.7 214.2,306.2 217.7,315.3 218.7,317.4 219.2,318 220.2,319 220.7,319.4 221.2,319.5 221.7,319.5 222.2,319.2 223.2,318.4 224.2,317.4 225.2,316.1 226.7,313.6 229.7,308.9 232.2,305.4 232.7,304.9 233.2,304.7 233.7,304.6 234.7,304.5 235.2,304.5 235.7,304.8 237.2,306.5 238.7,307.4 239.7,307.9 240.7,307.9 242.2,307.7 242.7,307.5 243.2,307.2 243.7,306.4 244.2,305.5 245.7,302.3 247.7,297.5 249.2,294.5 249.7,293.7 250.2,293.1 251.2,292.6 251.7,292.5 252.2,292.8 252.7,293.5 254.2,296.3 256.2,300.4 257.7,303.2 258.7,304.7 259.7,305.9 260.7,306.8 261.2,307.1 261.7,307.3 264.1,307.6 264.6,307.9 268.1,311.8 268.6,312.2 269.1,312.3 269.6,312.2 270.1,312 271.6,310.7 273.1,308.8 273.6,308.2 274.6,307.1 275.6,306.3 276.1,306.2 278.6,305.8 279.1,305.7 282.6,303.5 283.1,303.3 283.6,303.4 284.6,304.6 285.1,305 285.6,305.2 286.6,305.5 287.1,305.5 287.6,305.2 289.1,302.8 291.1,298.6 291.6,297.8 296.6,291.2 298.1,288.4 298.6,287.9 299.1,287.9 299.6,288 301.1,288.5 301.6,288.8 303.1,289.9 303.6,290.3 304.1,290.9 304.6,291.9 307.1,298.2 308.1,300.4 309.6,302.5 310.1,303 310.6,303.2 311.1,303.3 311.6,303 312.1,302.5 313.1,301.3 313.6,300.3 315.1,296.6 316.6,293.6 317.1,292.8 317.6,292.3 319.1,291.4 320.1,291.2 321,291.2 322.5,291.9 323,292.5 323.5,293.4 325,296.7 326.5,300.4 327.5,302.5 329,305.2 331.5,309.3 333,311 334,311.9 334.5,312.1 335,312.2 336.5,311.9 337,311.7 337.5,311.2 338,310.4 339.5,307.6 341.5,303.5 344,299.3 344.5,298.3 346.5,293.5 348.5,289.7 349,289 349.5,288.6 350.5,288.1 351.5,287.9 352,288 352.5,288.2 353,288.6 354,289.7 354.5,290.4 355,291.5 356,294.2 356.5,295.8 357,297.8 361.5,318.3 362,320 362.5,321 363,321.8 363.5,322.1 364,321.7 364.5,320.6 365,319.2 365.5,317.1 367.5,306.2 368,303.9 369,300.5 369.5,299.1 370,298 370.5,297.1 371.5,295.8 372,295.4 372.5,295.2 373,295.3 374.5,295.6 375,295.9 376.5,297.9 379,300.4 380.4,302.1 381.4,303.5 381.9,304.4 382.4,305.8 383.4,309.1 385.4,314.6 386.4,316.6 387.4,318.2 388.4,319.4 389.9,320.6 390.9,321.2 393.4,322 393.9,322.3 395.4,324 395.9,324.3 396.4,324.3 397.4,324.1 398.4,323.6 398.9,322.9 400.4,319.5 404.9,310.4 406.4,307.9 407.4,306.5 407.9,306 408.9,305.2 409.4,304.9 409.9,304.7 410.4,304.7 410.9,304.8 413.4,306 413.9,306.2 414.4,306.1 414.9,305.4 417.9,299.1 419.4,296.3 419.9,295.5 420.4,295.1 420.9,294.9 421.9,294.7 422.4,294.8 422.9,295.4 423.4,296.4 424.4,298.6 425.9,303.6 427.4,308 427.9,309.3 428.9,311.1 429.4,311.9 429.9,312.4 430.4,312.7 431.4,312.9 432.4,313 433.4,313 435.4,312.4 437.8,311.9 439.3,311.4 440.3,310.9 440.8,310.3 443.8,304.6 445.3,301.3 446.8,297.4 448.3,292.5 449.3,288.4 450.3,283.6 453.3,265 455.3,254.2 455.8,252.4 456.3,251.4 456.8,250.6 457.3,250.3 457.8,250.6 458.3,251.5 458.8,252.8 459.3,255.4 459.8,258.9 460.3,263.5 463.8,307.3 464.3,312.9 464.8,317.4 465.3,320.3 465.8,322.5 466.3,323.9 466.8,324.8 467.3,325.4 467.8,325.5 468.3,325 469.3,323.4 470.8,321.7 471.8,320.7 473.3,319.8 474.3,319.3 476.3,318.8 479.3,318.6 482.3,317.9 484.8,317 486.8,316 488.3,315.5 489.8,315.3 490.3,315.3 490.8,315.5 493.8,318 494.3,318.4 494.8,318.6 495.3,318.7 496.2,318.4 497.7,317.8 498.7,317.1 500.2,315.8 501.2,314.6 502.7,312.4 504.2,310 505.2,308 507.2,303.8 511.7,293.1 513.2,290.3 513.7,289.6 514.2,289.1 515.2,288.6 515.7,288.4 516.2,288.5 516.7,289 518.2,291.4 519.7,294.5 521.2,296.3 521.7,296.6 522.2,296.8 524.2,296.9 525.2,297.1 525.7,297.4 526.7,298.1 527.2,298.9 527.7,300.1 528.7,303.3 530.7,312.5 531.7,316.5 532.7,319.2 533.2,320.1 533.7,320.4 534.2,320.1 534.7,319.5 535.7,318.1 537.2,315.4 537.7,314.6 538.2,314.1 539.2,313.2 540.2,312.5 541.7,311.5 542.7,311.1 544.7,310.7 545.7,310.6 546.2,310.7 547.2,311.2 548.2,311.9 548.7,312.4 549.7,313.7 550.2,314.2 550.7,314.4 551.2,314.3 551.7,314.1 552.7,313.3 553.2,312.5 559.6,298.3 560.6,296.7 564.1,291.9 564.6,291 565.1,289.7 565.6,287.5 566.6,282.3 569.6,268.9 570.1,267.4 570.6,266.3 571.1,265.5 571.6,265.4 572.1,266.3 572.6,267.9 573.1,270.9 576.1,301.1 576.6,305.7 577.6,313 578.1,315.8 578.6,318.2 579.6,321.8 580.6,324.1 581.1,325 581.6,325.5 582.1,325.5 582.6,325.3 583.6,324.5 584.1,323.8 584.6,322.7 586.1,318.7 588.1,311.8 590.1,305.6 591.1,303.1 592.1,300.9 593.1,299.2 594.6,297.4 595.6,296.6 597.1,295.9 598.1,295.6 598.6,295.6 599.1,295.7 600.6,296.4 601.1,296.9 601.6,297.5 603.1,299.7 606.6,305.8 607.1,306.4 607.6,306.8 608.6,307.1 609.1,307.2 609.6,307.1 610.1,306.7 611.6,305.1 612.5,303.8 613,303.4 613.5,303.3 614,303.6 615,304.7 615.5,305 617,305.5 617.5,305.5 618,305.4 618.5,304.9 621.5,300.9 622,300.5 623,300.1 624,299.9 624.5,299.9 625,300 626,300.8 626.5,301 627,301.2 628,301.5 628.5,301.6 629,301.4 629.5,301 630.5,299.7 632,298.1 632.5,297.7 633,297.4 633.5,297.3 634,297.4 635,297.6 635.5,297.8 636,298.2 639.5,302.7 640.5,304.2 641.5,305.9" fill="none" stroke="#0a0a0a" stroke-width="1.12" stroke-linejoin="round"/>
</g>
<rect x="58.5" y="244.55" width="583.00" height="92.05" fill="none" stroke="#000" stroke-width="0.55"/>
<path d="M56.40,245.46H58.5" stroke="#000" stroke-width="0.55"/>
<text x="54" y="249.1" font-size="8.9" text-anchor="end">80W</text>
<path d="M56.40,268.25H58.5" stroke="#000" stroke-width="0.55"/>
<text x="54" y="271.8" font-size="8.9" text-anchor="end">120W</text>
<path d="M56.40,291.03H58.5" stroke="#000" stroke-width="0.55"/>
<text x="54" y="294.6" font-size="8.9" text-anchor="end">160W</text>
<path d="M56.40,313.82H58.5" stroke="#000" stroke-width="0.55"/>
<text x="54" y="317.4" font-size="8.9" text-anchor="end">160E</text>
<path d="M56.40,336.60H58.5" stroke="#000" stroke-width="0.55"/>
<text x="54" y="340.2" font-size="8.9" text-anchor="end">120E</text>
<path d="M58.50,336.6V338.70" stroke="#000" stroke-width="0.55"/>
<text x="58.5" y="347.6" font-size="8.9" text-anchor="middle">105</text>
<path d="M127.90,336.6V338.70" stroke="#000" stroke-width="0.55"/>
<text x="127.9" y="347.6" font-size="8.9" text-anchor="middle">110</text>
<path d="M197.31,336.6V338.70" stroke="#000" stroke-width="0.55"/>
<text x="197.3" y="347.6" font-size="8.9" text-anchor="middle">115</text>
<path d="M266.71,336.6V338.70" stroke="#000" stroke-width="0.55"/>
<text x="266.7" y="347.6" font-size="8.9" text-anchor="middle">120</text>
<path d="M336.12,336.6V338.70" stroke="#000" stroke-width="0.55"/>
<text x="336.1" y="347.6" font-size="8.9" text-anchor="middle">125</text>
<path d="M405.52,336.6V338.70" stroke="#000" stroke-width="0.55"/>
<text x="405.5" y="347.6" font-size="8.9" text-anchor="middle">130</text>
<path d="M474.93,336.6V338.70" stroke="#000" stroke-width="0.55"/>
<text x="474.9" y="347.6" font-size="8.9" text-anchor="middle">135</text>
<path d="M544.33,336.6V338.70" stroke="#000" stroke-width="0.55"/>
<text x="544.3" y="347.6" font-size="8.9" text-anchor="middle">140</text>
<path d="M613.74,336.6V338.70" stroke="#000" stroke-width="0.55"/>
<text x="613.7" y="347.6" font-size="8.9" text-anchor="middle">145</text>
<text x="24.3" y="290.6" font-size="9.0" text-anchor="middle" transform="rotate(-90 24.3 290.6)">TIME ORDERED</text>
<text x="0.1" y="244.6" font-size="8.8" font-weight="bold">c</text>
<clipPath id="k1"><path d="M647.4,5.45L652.42,0.85L657.45,5.45V97.5L652.42,102.10L647.4,97.5Z"/></clipPath>
<g clip-path="url(#k1)">
<rect x="646.4" y="-0.15" width="12.05" height="103.25" fill="#000002"/>
<rect x="646.4" y="-0.15" width="12.05" height="97.65" fill="#05040c"/>
<rect x="646.4" y="-0.15" width="12.05" height="92.54" fill="#120c2e"/>
<rect x="646.4" y="-0.15" width="12.05" height="87.42" fill="#241354"/>
<rect x="646.4" y="-0.15" width="12.05" height="82.31" fill="#3c1876"/>
<rect x="646.4" y="-0.15" width="12.05" height="77.20" fill="#541e8c"/>
<rect x="646.4" y="-0.15" width="12.05" height="72.08" fill="#6c2692"/>
<rect x="646.4" y="-0.15" width="12.05" height="66.97" fill="#842e92"/>
<rect x="646.4" y="-0.15" width="12.05" height="61.86" fill="#9c358c"/>
<rect x="646.4" y="-0.15" width="12.05" height="56.74" fill="#b43b82"/>
<rect x="646.4" y="-0.15" width="12.05" height="51.63" fill="#ca4175"/>
<rect x="646.4" y="-0.15" width="12.05" height="46.51" fill="#d8476d"/>
<rect x="646.4" y="-0.15" width="12.05" height="41.40" fill="#e55961"/>
<rect x="646.4" y="-0.15" width="12.05" height="36.29" fill="#ee6b5b"/>
<rect x="646.4" y="-0.15" width="12.05" height="31.17" fill="#ef8862"/>
<rect x="646.4" y="-0.15" width="12.05" height="26.06" fill="#f1a873"/>
<rect x="646.4" y="-0.15" width="12.05" height="20.94" fill="#f2c284"/>
<rect x="646.4" y="-0.15" width="12.05" height="15.83" fill="#f4dc97"/>
<rect x="646.4" y="-0.15" width="12.05" height="10.72" fill="#f5f1ac"/>
<rect x="646.4" y="-0.15" width="12.05" height="5.60" fill="#f3f8b0"/>
</g>
<path d="M647.4,5.45L652.42,0.85L657.45,5.45V97.5L652.42,102.10L647.4,97.5Z" fill="none" stroke="#000" stroke-width="0.7" stroke-linejoin="miter"/>
<path d="M657.45,97.50h2.1" stroke="#000" stroke-width="0.55"/>
<text x="661.4" y="101.4" font-size="8.9">22</text>
<path d="M657.45,66.82h2.1" stroke="#000" stroke-width="0.55"/>
<text x="661.4" y="70.7" font-size="8.9">25</text>
<path d="M657.45,36.13h2.1" stroke="#000" stroke-width="0.55"/>
<text x="661.4" y="40" font-size="8.9">28</text>
<path d="M657.45,5.45h2.1" stroke="#000" stroke-width="0.55"/>
<text x="661.4" y="9.4" font-size="8.9">31</text>
<text x="684.6" y="52.2" font-size="8.9" text-anchor="middle" transform="rotate(-90 684.6 52.2)">C</text>
<clipPath id="k2"><path d="M647.4,125.0L652.42,120.40L657.45,125.0V217.05L652.42,221.65L647.4,217.05Z"/></clipPath>
<g clip-path="url(#k2)">
<rect x="646.4" y="119.40" width="12.05" height="103.26" fill="#1c3764"/>
<rect x="646.4" y="119.40" width="12.05" height="97.65" fill="#21487e"/>
<rect x="646.4" y="119.40" width="12.05" height="91.90" fill="#3068aa"/>
<rect x="646.4" y="119.40" width="12.05" height="86.15" fill="#4285bb"/>
<rect x="646.4" y="119.40" width="12.05" height="80.39" fill="#61a3ca"/>
<rect x="646.4" y="119.40" width="12.05" height="74.64" fill="#8cc2da"/>
<rect x="646.4" y="119.40" width="12.05" height="68.89" fill="#b3d8e8"/>
<rect x="646.4" y="119.40" width="12.05" height="63.13" fill="#d7eaf1"/>
<rect x="646.4" y="119.40" width="12.05" height="57.38" fill="#ecf3f5"/>
<rect x="646.4" y="119.40" width="12.05" height="51.63" fill="#f5eee8"/>
<rect x="646.4" y="119.40" width="12.05" height="45.87" fill="#f5dccc"/>
<rect x="646.4" y="119.40" width="12.05" height="40.12" fill="#f3bb9f"/>
<rect x="646.4" y="119.40" width="12.05" height="34.37" fill="#ec9577"/>
<rect x="646.4" y="119.40" width="12.05" height="28.61" fill="#db6b55"/>
<rect x="646.4" y="119.40" width="12.05" height="22.86" fill="#c43e3d"/>
<rect x="646.4" y="119.40" width="12.05" height="17.11" fill="#ac1e2e"/>
<rect x="646.4" y="119.40" width="12.05" height="11.36" fill="#7d1528"/>
<rect x="646.4" y="119.40" width="12.05" height="5.60" fill="#670d22"/>
</g>
<path d="M647.4,125.0L652.42,120.40L657.45,125.0V217.05L652.42,221.65L647.4,217.05Z" fill="none" stroke="#000" stroke-width="0.7" stroke-linejoin="miter"/>
<path d="M657.45,217.05h2.1" stroke="#000" stroke-width="0.55"/>
<text x="661.4" y="221" font-size="8.9">−4</text>
<path d="M657.45,194.04h2.1" stroke="#000" stroke-width="0.55"/>
<text x="661.4" y="197.9" font-size="8.9">−2</text>
<path d="M657.45,171.03h2.1" stroke="#000" stroke-width="0.55"/>
<text x="661.4" y="174.9" font-size="8.9">0</text>
<path d="M657.45,148.01h2.1" stroke="#000" stroke-width="0.55"/>
<text x="661.4" y="151.9" font-size="8.9">2</text>
<path d="M657.45,125.00h2.1" stroke="#000" stroke-width="0.55"/>
<text x="661.4" y="128.9" font-size="8.9">4</text>
<text x="684.6" y="171.7" font-size="8.9" text-anchor="middle" transform="rotate(-90 684.6 171.7)">C</text>
<clipPath id="k3"><path d="M647.4,244.55L652.42,239.95L657.45,244.55V336.6L652.42,341.20L647.4,336.6Z"/></clipPath>
<g clip-path="url(#k3)">
<rect x="646.4" y="238.95" width="12.05" height="103.26" fill="#1c3764"/>
<rect x="646.4" y="238.95" width="12.05" height="97.65" fill="#21487e"/>
<rect x="646.4" y="238.95" width="12.05" height="91.90" fill="#3068aa"/>
<rect x="646.4" y="238.95" width="12.05" height="86.15" fill="#4285bb"/>
<rect x="646.4" y="238.95" width="12.05" height="80.39" fill="#61a3ca"/>
<rect x="646.4" y="238.95" width="12.05" height="74.64" fill="#8cc2da"/>
<rect x="646.4" y="238.95" width="12.05" height="68.89" fill="#b3d8e8"/>
<rect x="646.4" y="238.95" width="12.05" height="63.13" fill="#d7eaf1"/>
<rect x="646.4" y="238.95" width="12.05" height="57.38" fill="#ecf3f5"/>
<rect x="646.4" y="238.95" width="12.05" height="51.63" fill="#f5eee8"/>
<rect x="646.4" y="238.95" width="12.05" height="45.87" fill="#f5dccc"/>
<rect x="646.4" y="238.95" width="12.05" height="40.12" fill="#f3bb9f"/>
<rect x="646.4" y="238.95" width="12.05" height="34.37" fill="#ec9577"/>
<rect x="646.4" y="238.95" width="12.05" height="28.61" fill="#db6b55"/>
<rect x="646.4" y="238.95" width="12.05" height="22.86" fill="#c43e3d"/>
<rect x="646.4" y="238.95" width="12.05" height="17.11" fill="#ac1e2e"/>
<rect x="646.4" y="238.95" width="12.05" height="11.36" fill="#7d1528"/>
<rect x="646.4" y="238.95" width="12.05" height="5.60" fill="#670d22"/>
</g>
<path d="M647.4,244.55L652.42,239.95L657.45,244.55V336.6L652.42,341.20L647.4,336.6Z" fill="none" stroke="#000" stroke-width="0.7" stroke-linejoin="miter"/>
<path d="M657.45,336.60h2.1" stroke="#000" stroke-width="0.55"/>
<text x="661.4" y="340.5" font-size="8.9">−4</text>
<path d="M657.45,313.59h2.1" stroke="#000" stroke-width="0.55"/>
<text x="661.4" y="317.5" font-size="8.9">−2</text>
<path d="M657.45,290.58h2.1" stroke="#000" stroke-width="0.55"/>
<text x="661.4" y="294.5" font-size="8.9">0</text>
<path d="M657.45,267.56h2.1" stroke="#000" stroke-width="0.55"/>
<text x="661.4" y="271.5" font-size="8.9">2</text>
<path d="M657.45,244.55h2.1" stroke="#000" stroke-width="0.55"/>
<text x="661.4" y="248.5" font-size="8.9">4</text>
<text x="684.6" y="291.3" font-size="8.9" text-anchor="middle" transform="rotate(-90 684.6 291.3)">C</text>
<clipPath id="cd"><rect x="58.5" y="364.5" width="176.7" height="92.0"/></clipPath><g clip-path="url(#cd)" fill="none" stroke-width="1.15">
<path d="M80.6,387.5 235.2,478.5" stroke="#1f77b1"/>
<path d="M102.7,387.5 235.2,465.5" stroke="#ef7c1f"/>
<path d="M124.8,387.5 235.2,452.5" stroke="#31a138"/>
<path d="M146.8,387.5 235.2,439.5" stroke="#d72525"/>
<path d="M168.9,387.5 235.2,426.5" stroke="#9268c6"/>
<path d="M191,387.5 235.2,413.5" stroke="#8c564b"/>
<path d="M58.5,387.5 213.1,387.5 235.2,400.5" stroke="#e277d4"/>
</g>
<rect x="58.5" y="364.5" width="176.70" height="92.00" fill="none" stroke="#000" stroke-width="0.55"/>
<path d="M56.40,445.00H58.5" stroke="#000" stroke-width="0.55"/>
<text x="54" y="448.6" font-size="8.9" text-anchor="end">24C</text>
<path d="M56.40,422.00H58.5" stroke="#000" stroke-width="0.55"/>
<text x="54" y="425.6" font-size="8.9" text-anchor="end">26C</text>
<path d="M56.40,399.00H58.5" stroke="#000" stroke-width="0.55"/>
<text x="54" y="402.6" font-size="8.9" text-anchor="end">28C</text>
<path d="M56.40,376.00H58.5" stroke="#000" stroke-width="0.55"/>
<text x="54" y="379.6" font-size="8.9" text-anchor="end">30C</text>
<path d="M58.50,456.5V458.60" stroke="#000" stroke-width="0.55"/>
<text x="58.5" y="467.4" font-size="8.9" text-anchor="middle">120E</text>
<path d="M102.67,456.5V458.60" stroke="#000" stroke-width="0.55"/>
<text x="102.7" y="467.4" font-size="8.9" text-anchor="middle">160E</text>
<path d="M146.85,456.5V458.60" stroke="#000" stroke-width="0.55"/>
<text x="146.8" y="467.4" font-size="8.9" text-anchor="middle">160W</text>
<path d="M191.02,456.5V458.60" stroke="#000" stroke-width="0.55"/>
<text x="191" y="467.4" font-size="8.9" text-anchor="middle">120W</text>
<path d="M235.20,456.5V458.60" stroke="#000" stroke-width="0.55"/>
<text x="235.2" y="467.4" font-size="8.9" text-anchor="middle">80W</text>
<text x="40.3" y="364.1" font-size="8.8" font-weight="bold">d</text>
<g transform="translate(31.8 420.8) rotate(-90)">
<text x="0" y="0" font-size="8.9" font-style="italic">T</text>
<path d="M0.9,-8.1H6.2" stroke="#000" stroke-width="0.6"/>
<text x="5.5" y="2.4" font-size="6.2" font-style="italic">ideal</text>
</g>
<clipPath id="ce"><rect x="270.5" y="364.5" width="176.9" height="92.0"/></clipPath><g clip-path="url(#ce)" fill="none" stroke-width="1.15" stroke-linejoin="round">
<path d="M292.6,422 301.5,427.1 309.2,431.2 315.8,434.5 321.9,437.2 325.2,438.6 328,439.6 330.8,440.5 333.5,441.4 336.3,442.1 339.6,442.9 342.4,443.5 345.7,444.1 352.3,445 360.6,445.8 368.9,446.3 378.9,446.7 391,447.1 404.3,447.2 425.3,447.4 447.4,447.4" stroke="#1f77b1"/>
<path d="M314.7,421 319.7,423.3 324.7,425.4 329.7,427.2 334.1,428.5 339,429.8 344,430.8 349,431.6 355.6,432.3 362.3,432.9 369.5,433.4 377.7,433.7 387.7,434 398.2,434.2 410.4,434.3 447.4,434.4" stroke="#ef7c1f"/>
<path d="M336.8,416.3 340.2,417 344,417.8 347.3,418.3 351.2,418.9 355.6,419.3 360.6,419.8 365.6,420.2 371.1,420.5 383.8,420.9 399.3,421.2 423.1,421.4 447.4,421.4" stroke="#31a138"/>
<path d="M358.9,406.7 365,407.1 372.2,407.5 381.1,407.8 390.5,408.1 401,408.2 413.7,408.3 447.4,408.4" stroke="#d72525"/>
<path d="M381.1,394.8 392.7,395.1 405.4,395.3 425.8,395.4 447.4,395.4" stroke="#9268c6"/>
<path d="M403.2,382.3 424.7,382.4 447.4,382.4" stroke="#8c564b"/>
<path d="M270.5,422 297,421.9 303.7,421.8 309.7,421.4 315.8,420.9 318.6,420.5 321.9,420 325.2,419.4 328,418.8 333,417.5 336.3,416.5 339.6,415.3 343.5,413.8 346.8,412.4 350.7,410.7 355.1,408.6 364.5,403.8 375,398.2 388.8,390.5 403.2,382.3 425.3,369.4 447.4,369.4" stroke="#e277d4"/>
</g>
<rect x="270.5" y="364.5" width="176.90" height="92.00" fill="none" stroke="#000" stroke-width="0.55"/>
<path d="M268.40,445.00H270.5" stroke="#000" stroke-width="0.55"/>
<text x="266.7" y="448.6" font-size="8.9" text-anchor="end">-2</text>
<path d="M268.40,422.00H270.5" stroke="#000" stroke-width="0.55"/>
<text x="266.7" y="425.6" font-size="8.9" text-anchor="end">0</text>
<path d="M268.40,399.00H270.5" stroke="#000" stroke-width="0.55"/>
<text x="266.7" y="402.6" font-size="8.9" text-anchor="end">2</text>
<path d="M268.40,376.00H270.5" stroke="#000" stroke-width="0.55"/>
<text x="266.7" y="379.6" font-size="8.9" text-anchor="end">4</text>
<path d="M270.50,456.5V458.60" stroke="#000" stroke-width="0.55"/>
<text x="270.5" y="467.4" font-size="8.9" text-anchor="middle">120E</text>
<path d="M314.73,456.5V458.60" stroke="#000" stroke-width="0.55"/>
<text x="314.7" y="467.4" font-size="8.9" text-anchor="middle">160E</text>
<path d="M358.95,456.5V458.60" stroke="#000" stroke-width="0.55"/>
<text x="358.9" y="467.4" font-size="8.9" text-anchor="middle">160W</text>
<path d="M403.18,456.5V458.60" stroke="#000" stroke-width="0.55"/>
<text x="403.2" y="467.4" font-size="8.9" text-anchor="middle">120W</text>
<path d="M447.40,456.5V458.60" stroke="#000" stroke-width="0.55"/>
<text x="447.4" y="467.4" font-size="8.9" text-anchor="middle">80W</text>
<text x="252" y="364.1" font-size="8.8" font-weight="bold">e</text>
<g transform="translate(252.8 422.0) rotate(-90)">
<text x="0" y="0" font-size="8.9" font-style="italic">T</text>
<path d="M0.9,-8.1H6.2" stroke="#000" stroke-width="0.6"/>
<text x="5.6" y="6.6" font-size="12">′</text>
<text x="8.2" y="2.4" font-size="6.2" font-style="italic">ideal</text>
</g>
<clipPath id="cf"><rect x="482.5" y="364.5" width="177.0" height="92.0"/></clipPath><g clip-path="url(#cf)">
<path d="M482.5,380.4 487,383 488.1,383.4 490.3,383.3 493.6,383.1 494.8,382.9 495.9,382.3 497,381.6 498.1,380.6 499.2,379.3 500.3,378.8 502.6,378.3 507,377.8 514.8,376.7 517.1,376.5 519.3,376.5 522.6,376.6 527.1,376.9 531.6,377.5 533.8,377.9 536,378.4 543.8,380.6 548.3,382 552.7,383.7 560.6,387.1 565,389.2 579.5,396.9 598.5,406.5 607.4,410.7 615.2,414 624.1,417.4 629.7,419.4 633,420.4 643.1,422.8 644.2,423.1 647.5,423.6 648.6,423.8 649.8,424.3 652,425.6 653.1,426 654.2,426.3 655.3,426.3 656.5,424.9 657.6,422.3 658.7,416.5 659.8,403.8 659.8,438.8 658.7,444.5 657.6,447.4 656.5,449.5 655.3,450.9 654.2,452 653.1,452.6 652,452.3 650.9,450.9 649.8,449.7 647.5,448.3 645.3,447.2 643.1,446.6 638.6,445.9 636.4,445.4 631.9,444.5 628.6,443.6 623,442.1 620.8,441.4 618.5,440.6 616.3,439.5 615.2,438.8 611.8,435.6 610.7,434.6 608.5,433.2 601.8,429.3 570.6,410.7 563.9,406.8 558.3,403.7 551.6,400.2 544.9,397 541.6,395.6 538.2,394.4 530.4,391.9 528.2,390.8 523.8,388.5 521.5,387.6 520.4,387.3 519.3,387.1 515.9,386.8 512.6,386.7 507,386.8 503.7,387 501.4,387.3 500.3,387.6 499.2,388.3 498.1,389.5 497,391 495.9,391.7 494.8,392.3 493.6,392.4 490.3,392.4 489.2,392.4 488.1,391.6 487,390.3 485.8,389.2 483.6,387.7 482.5,387Z" fill="#808080" fill-opacity="0.45"/>
<path d="M482.5,387.5 499.1,387.5 504.6,387.4 512.9,387.1 526.8,386.4 531.7,386.3 538.4,386.3 543.9,386.6 547.8,387 551.6,387.7 555.5,388.5 559.4,389.5 563.3,390.7 567.7,392.3 572.7,394.2 577.1,396 583.7,398.9 591.5,402.6 600.9,407.3 610.3,412.3 620.8,418 636.3,426.6 659.5,440 659.5,462.4 640.1,451.2 619.1,438.8 576,413 565.5,406.9 558.8,403.1 553.3,400.2 548.3,397.7 543.9,395.8 540.6,394.4 537.3,393.2 531.2,391.3 527.9,390.5 524.5,389.7 521.2,389.1 517.9,388.6 511.8,388 504.6,387.6 499.1,387.5 482.5,387.5Z" fill="#2020d0" fill-opacity="0.3"/>
<path d="M482.5,384.1 484.6,384.9 487.3,386.2 488,386.6 488.7,387.5 489.4,388.1 490.1,388.1 492.1,387.6 494.8,387.2 496.2,386.9 496.9,386.5 497.6,385.9 498.3,384.6 499,383.8 499.6,383.5 501,383.1 503.7,382.6 509.2,382 516.1,381 518.8,380.8 520.9,380.8 522.2,380.9 524.3,381.1 529.8,382.2 531.8,382.9 535.9,384.7 538,385.3 539.3,385.5 540,385.6 540.7,385.3 541.4,385.3 542.8,385.6 544.8,386.5 551,389.7 555.8,392.4 562.6,396.5 568.8,399.5 574.9,402.8 588.6,410.9 606.4,420.7 616,426.4 620.1,428.6 625.6,431 628.3,432 631.1,432.9 635.2,433.9 644.7,435.8 646.8,436.3 648.2,436.8 652.3,438.9 653,439.2 653.6,439.2 654.3,438.9 655,438.3 655.7,437.4 656.4,435.5 657.1,432.3 657.7,428 658.4,421.1 659.1,413.1 659.8,403.8" fill="none" stroke="#000" stroke-opacity="0.85" stroke-width="1.05" stroke-linejoin="round"/>
<path d="M482.5,387.5 504.1,387.5 512.4,387.6 520.1,387.8 526.8,388.3 530.1,388.7 533.9,389.2 537.3,389.7 540.6,390.4 543.9,391.2 546.7,391.9 549.4,392.8 552.7,393.9 556.1,395.1 559.4,396.5 562.7,397.9 567.1,400 576.5,404.6 586.5,409.8 599.2,416.7 613.6,424.8 636.8,438.1 659.5,451.2" fill="none" stroke="#1414e6" stroke-width="1.1" stroke-dasharray="3.4,1.3"/>
<path d="M482.5,385.1 483.9,385.7 484.6,385.9 485.3,386 488.7,386.1 490.1,386 494.8,385.5 496.9,385.1 497.6,384.9 498.3,384.5 499,383.9 499.6,383.5 501,383.1 502.4,382.8 509.9,382.2 517.4,381.4 520.9,381.3 524.3,381.6 529.8,382.5 531.8,383.1 535.9,384.8 538,385.5 539.3,385.7 540,385.8 540.7,385.5 541.4,385.6 542.8,385.9 544.8,386.8 551.7,390.3 555.8,392.7 560.6,395.6 562.6,396.8 568.8,399.5 573.6,402 577.7,404.4 588.6,410.9 607.1,421.1 617.4,427.4 620.1,428.9 622.8,430.2 627.6,432.4 629.7,433.2 631.7,433.9 640,435.9 641.3,436.3 645.4,438.1 650.9,439.8 655.7,440.9 659.8,441.7" fill="none" stroke="#000" stroke-width="0.9" stroke-linejoin="round"/>
</g>
<rect x="482.5" y="364.5" width="177.00" height="92.00" fill="none" stroke="#000" stroke-width="0.55"/>
<path d="M480.40,445.00H482.5" stroke="#000" stroke-width="0.55"/>
<text x="478.7" y="448.6" font-size="8.9" text-anchor="end">24</text>
<path d="M480.40,422.00H482.5" stroke="#000" stroke-width="0.55"/>
<text x="478.7" y="425.6" font-size="8.9" text-anchor="end">26</text>
<path d="M480.40,399.00H482.5" stroke="#000" stroke-width="0.55"/>
<text x="478.7" y="402.6" font-size="8.9" text-anchor="end">28</text>
<path d="M480.40,376.00H482.5" stroke="#000" stroke-width="0.55"/>
<text x="478.7" y="379.6" font-size="8.9" text-anchor="end">30</text>
<path d="M482.50,456.5V458.60" stroke="#000" stroke-width="0.55"/>
<text x="482.5" y="467.4" font-size="8.9" text-anchor="middle">120E</text>
<path d="M526.75,456.5V458.60" stroke="#000" stroke-width="0.55"/>
<text x="526.8" y="467.4" font-size="8.9" text-anchor="middle">160E</text>
<path d="M571.00,456.5V458.60" stroke="#000" stroke-width="0.55"/>
<text x="571" y="467.4" font-size="8.9" text-anchor="middle">160W</text>
<path d="M615.25,456.5V458.60" stroke="#000" stroke-width="0.55"/>
<text x="615.2" y="467.4" font-size="8.9" text-anchor="middle">120W</text>
<path d="M659.50,456.5V458.60" stroke="#000" stroke-width="0.55"/>
<text x="659.5" y="467.4" font-size="8.9" text-anchor="middle">80W</text>
<text x="465.1" y="364.1" font-size="8.8" font-weight="bold">f</text>
<rect x="488.8" y="420.8" width="15" height="5.1" fill="#808080" fill-opacity="0.45"/>
<text x="509.2" y="426.2" font-size="7.4">+-std(<tspan font-family="DejaVu Serif,Liberation Serif,serif" font-style="italic">T</tspan>)</text>
<rect x="488.8" y="432.5" width="15" height="5.1" fill="#2020d0" fill-opacity="0.3"/>
<text x="509.2" y="437.9" font-size="7.4">+-std(<tspan font-family="DejaVu Serif,Liberation Serif,serif" font-style="italic">T</tspan><tspan font-size="5.2" dy="1.3">ideal</tspan><tspan dy="-1.3">)</tspan></text>
<path d="M533.2,431.3h4.6" stroke="#000" stroke-width="0.5"/>
<path d="M488.8,445.9h15" stroke="#000" stroke-opacity="0.6" stroke-width="1.5"/>
<text x="509.2" y="448.6" font-size="7.4"><tspan font-family="DejaVu Serif,Liberation Serif,serif" font-style="italic">T</tspan></text><path d="M509.9,442.0h4.6" stroke="#000" stroke-width="0.5"/>
<path d="M565.8,423.5h15" stroke="#1414e6" stroke-width="1.1" stroke-dasharray="3.4,1.3"/>
<text x="586.2" y="426.2" font-size="7.4"><tspan font-family="DejaVu Serif,Liberation Serif,serif" font-style="italic">T</tspan><tspan font-size="5.2" dy="1.3">ideal</tspan></text><path d="M586.9,419.6h4.6M586.9,418.5h4.6" stroke="#000" stroke-width="0.5"/>
<path d="M565.8,435.7h15" stroke="#000" stroke-width="0.9"/>
<text x="586.2" y="438.4" font-size="7.4"><tspan font-family="DejaVu Serif,Liberation Serif,serif" font-style="italic">T</tspan> sm</text><path d="M586.9,431.8h4.6M586.9,430.7h4.6" stroke="#000" stroke-width="0.5"/>
</svg></body></html>
